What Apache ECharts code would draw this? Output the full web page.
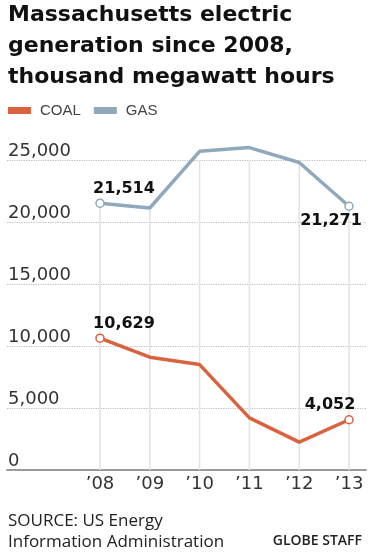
<!DOCTYPE html>
<html><head><meta charset="utf-8">
<style>html,body{margin:0;padding:0;background:#fff}#c{width:371px;height:554px}</style>
<script src="https://cdn.jsdelivr.net/npm/echarts@6/dist/echarts.min.js"></script>
</head><body><div id="c"></div>
<script>
var years = [2008, 2009, 2010, 2011, 2012, 2013];
var yearLabels = ['’08', '’09', '’10', '’11', '’12', '’13'];
var gas = [21514, 21130, 25700, 26000, 24800, 21271];
var coal = [10629, 9100, 8500, 4200, 2250, 4052];
var yTicks = [0, 5000, 10000, 15000, 20000, 25000];

var COAL_C = '#d9623f', GAS_C = '#8fa8bb';
function pairs(vals) { return vals.map(function (v, i) { return [years[i], v]; }); }
function fmt(v) { return v.toLocaleString('en-US'); }
function withEnds(vals, color, lab0, lab5) {
  return vals.map(function (v, i) {
    var d = { value: [years[i], v] };
    if (i === 0 || i === vals.length - 1) {
      d.symbol = 'circle'; d.symbolSize = 8;
      d.itemStyle = { color: '#fff', borderColor: color, borderWidth: 1.5 };
      var l = i === 0 ? lab0 : lab5;
      d.label = Object.assign({ show: true, formatter: fmt(v), fontFamily: 'DejaVu Sans', fontWeight: 'bold', fontSize: 16, color: '#111' }, l);
    }
    return d;
  });
}
var chart = echarts.init(document.getElementById('c'), null, { renderer: 'canvas' });
chart.setOption({
  animation: false,
  title: {
    text: 'Massachusetts electric\ngeneration since 2008,\nthousand megawatt hours',
    left: 8, top: 0, padding: 0,
    textStyle: { fontFamily: 'DejaVu Sans', fontWeight: 'bold', fontSize: 22, lineHeight: 31, color: '#111' }
  },
  legend: {
    data: ['COAL', 'GAS'], left: 8, top: 103, padding: 0, itemGap: 13,
    itemWidth: 23, itemHeight: 7, icon: 'rect',
    textStyle: { fontFamily: 'Liberation Sans', fontSize: 15, color: '#444', padding: [0, 0, 0, 4] }
  },
  grid: { left: 7, right: 5, top: 160, bottom: 84 },
  xAxis: {
    type: 'value', min: 2006.133, max: 2013.341,
    splitLine: { show: false }, axisTick: { show: false },
    axisLine: { show: true, lineStyle: { color: '#9a9a9a', width: 2 } },
    axisLabel: {
      customValues: years, margin: 5,
      formatter: function (v) { return yearLabels[years.indexOf(Math.round(v))] || ''; },
      fontFamily: 'DejaVu Sans', fontSize: 18, color: '#333'
    }
  },
  yAxis: {
    type: 'value', min: 0, max: 25000, interval: 5000,
    axisLine: { show: false }, axisTick: { show: false },
    splitLine: { show: true, lineStyle: { type: 'dotted', color: '#bdbdbd', width: 1.2 } },
    axisLabel: {
      inside: true, margin: 1, verticalAlign: 'bottom',
      formatter: function (v) { return yTicks.indexOf(v) >= 0 ? fmt(v) : ''; },
      fontFamily: 'DejaVu Sans', fontSize: 18, color: '#333'
    }
  },
  series: [
    { name: 'drop', type: 'bar', data: pairs(gas), barWidth: 1.5, z: 1, silent: true,
      itemStyle: { color: '#e2e2e2' } },
    { name: 'GAS', type: 'line', clip: false, z: 3, showSymbol: true, symbol: 'none',
      lineStyle: { color: GAS_C, width: 3.5 }, itemStyle: { color: GAS_C },
      data: withEnds(gas, GAS_C,
        { position: 'top', distance: 2, offset: [24, 0] },
        { position: 'bottom', distance: 2, offset: [-18, 0] }) },
    { name: 'COAL', type: 'line', clip: false, z: 3, showSymbol: true, symbol: 'none',
      lineStyle: { color: COAL_C, width: 3.5 }, itemStyle: { color: COAL_C },
      data: withEnds(coal, COAL_C,
        { position: 'top', distance: 2, offset: [24, 0] },
        { position: 'top', distance: 2, offset: [-19, 0] }) }
  ],
  graphic: [
    { type: 'text', left: 8, top: 511, style: { text: 'SOURCE: US Energy\nInformation Administration', fontFamily: 'Open Sans', fontSize: 17, lineHeight: 21, fill: '#222' } },
    { type: 'text', right: 9, top: 534, style: { text: 'GLOBE STAFF', fontFamily: 'Open Sans', fontWeight: 600, fontSize: 14, fill: '#222' } }
  ]
});
</script></body></html>
